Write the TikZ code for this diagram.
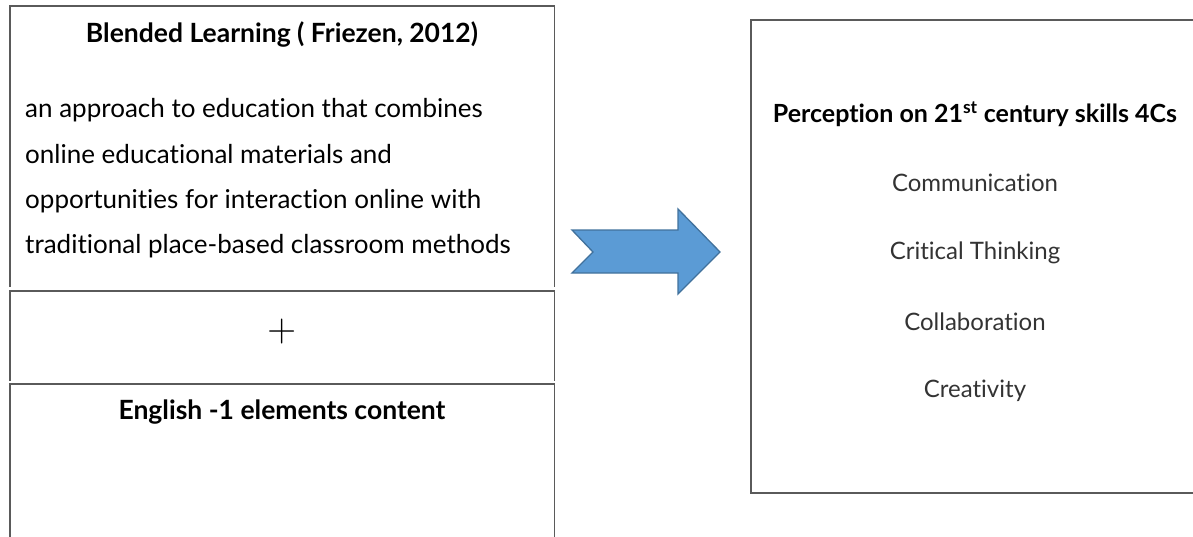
\documentclass[tikz,border=0pt]{standalone}
\usepackage{fontspec}
\setmainfont{Lato}[Ligatures=NoCommon]
\definecolor{edge}{HTML}{5A5A5A}
\definecolor{arrowfill}{HTML}{5B9BD5}
\definecolor{arrowedge}{HTML}{41719C}
\definecolor{skill}{HTML}{333333}
\begin{document}
\begin{tikzpicture}[x=1pt,y=-1pt,
  frame/.style={draw=none, minimum width=544pt, inner sep=0pt},
  side/.style={draw=edge, line width=1.4pt},
  head/.style={font=\fontsize{26.5}{30}\selectfont\bfseries, inner sep=0pt},
  body/.style={font=\fontsize{26}{30}\selectfont, inner sep=0pt, anchor=base west},
  skillitem/.style={font=\fontsize{24}{28}\selectfont, text=skill, inner sep=0pt}]
\useasboundingbox (0,0) rectangle (1193,536);
\clip (0,0) rectangle (1193,536);
% left boxes
\node[frame, minimum height=281pt] (b1) at (282,146.5) {};
\node[frame, minimum height=90pt] (b2) at (282,336) {};
\node[frame, minimum height=160pt] (b3) at (282,464) {};
\draw[side] (b1.south west) -- (b1.north west) -- (b1.north east) -- (b1.south east);
\draw[side] (b2.south west) -- (b2.north west) -- (b2.north east) -- (b2.south east);
\draw[side] (b3.south west) -- (b3.north west) -- (b3.north east) -- (b3.south east);
\node[head] (t1) at (282,34) {Blended Learning ( Friezen, 2012)};
\node[body] (l1) at (25,117) {an approach to education that combines};
\node[body] (l2) at (25,163) {online educational materials and};
\node[body] (l3) at (25,208) {opportunities for interaction online with};
\node[body] (l4) at (25,253) {traditional place-based classroom methods};
\node[font=\fontsize{40}{44}\selectfont\sffamily, inner sep=0pt] (plus) at (282,332) {+};
\node[head] (t3) at (282,412) {English -1 elements content};
% arrow
\coordinate (a1) at (572,230);
\coordinate (a2) at (678,230);
\coordinate (a3) at (678,209);
\coordinate (a4) at (720,252);
\coordinate (a5) at (678,294);
\coordinate (a6) at (678,273);
\coordinate (a7) at (572,273);
\coordinate (a8) at (593,252);
\draw[fill=arrowfill, draw=arrowedge, line width=1.3pt, line join=miter]
  (a1) -- (a2) -- (a3) -- (a4) -- (a5) -- (a6) -- (a7) -- (a8) -- cycle;
% right box
\node[draw=edge, line width=1.4pt, minimum width=460pt, minimum height=473pt, inner sep=0pt] (rb) at (981,256.5) {};
\node[font=\fontsize{25}{29}\selectfont\bfseries, inner sep=0pt] (rt) at (975,114) {Perception on 21\textsuperscript{st} century skills 4Cs};
\node[skillitem] (s1) at (975,183) {Communication};
\node[skillitem] (s2) at (975,253) {Critical Thinking};
\node[skillitem] (s3) at (975,322) {Collaboration};
\node[skillitem] (s4) at (975,391) {Creativity};
\end{tikzpicture}
\end{document}
